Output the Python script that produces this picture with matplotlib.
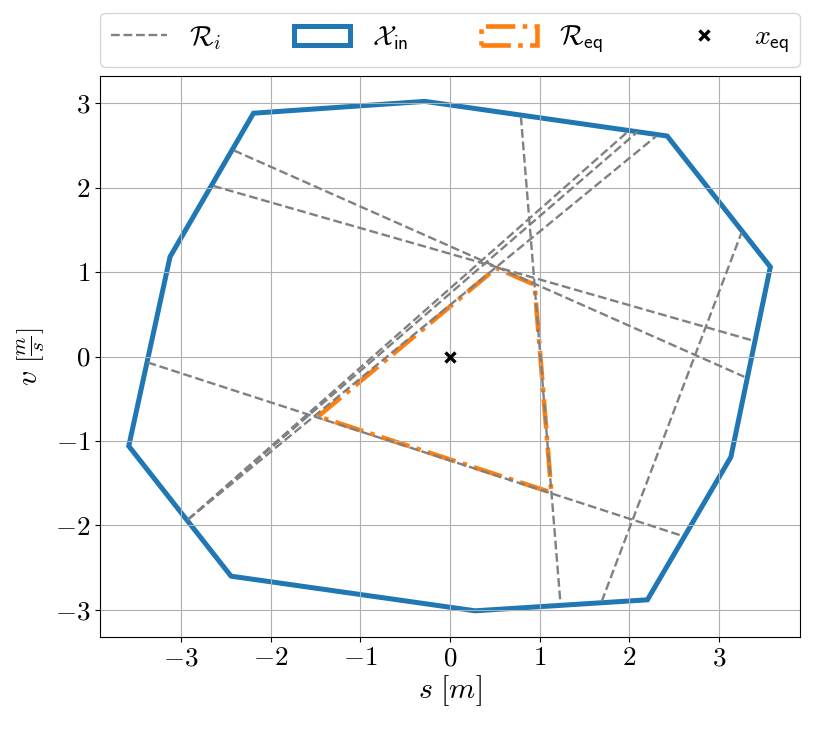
import numpy as np
import matplotlib
matplotlib.use("Agg")
import matplotlib.pyplot as plt
from matplotlib.patches import Polygon

plt.rcParams["font.family"] = "serif"
plt.rcParams["font.serif"] = ["cmr10", "DejaVu Serif"]
plt.rcParams["mathtext.fontset"] = "cm"
plt.rcParams["axes.formatter.use_mathtext"] = True
plt.rcParams["font.size"] = 20

# conjunto de entrada X_in (vertices)
x_in_s = [-3.58, -3.12, -2.19, -0.28, 2.42, 3.57, 3.13, 2.20, 0.28, -2.44]
x_in_v = [-1.06, 1.18, 2.88, 3.02, 2.61, 1.06, -1.19, -2.88, -3.01, -2.60]

# region de equilibrio R_eq
r_eq_s = [-1.47, 0.515, 0.942, 1.13]
r_eq_v = [-0.71, 1.047, 0.85, -1.61]

# rectas R_i (extremos)
ri_s0 = [-3.37, -2.41, -2.64, -2.92, -2.92, -2.92, 0.79, 1.69]
ri_v0 = [-0.07, 2.44, 2.02, -1.93, -1.93, -1.93, 2.84, -2.90]
ri_s1 = [2.58, 3.28, 3.37, 1.98, 2.09, 2.30, 1.23, 3.25]
ri_v1 = [-2.12, -0.24, 0.19, 2.66, 2.66, 2.61, -2.91, 1.47]

x_eq = [0.0, 0.0]

fig = plt.figure(figsize=(8.22, 7.31), dpi=100)
ax = fig.add_axes([0.1217, 0.1286, 0.8515, 0.7674])

for i in range(len(ri_s0)):
    ax.plot([ri_s0[i], ri_s1[i]], [ri_v0[i], ri_v1[i]], "--", color="gray",
            lw=1.7, label=r"$\mathcal{R}_i$" if i == 0 else None)

pin = Polygon(np.column_stack([x_in_s, x_in_v]), closed=True, fill=False,
              edgecolor="tab:blue", lw=3.6, label=r"$\mathcal{X}_{\mathsf{in}}$")
ax.add_patch(pin)

peq = Polygon(np.column_stack([r_eq_s, r_eq_v]), closed=True, fill=False,
              edgecolor="tab:orange", lw=3.3, ls="-.", label=r"$\mathcal{R}_{\mathsf{eq}}$")
ax.add_patch(peq)

ax.plot(x_eq[0], x_eq[1], "x", color="black", ms=7, mew=2.4, ls="none",
        label=r"$x_{\mathsf{eq}}$")

ax.set_xlim(-3.9, 3.9)
ax.set_ylim(-3.32, 3.32)
ax.grid(True)
ax.tick_params(labelsize=19.5)
ax.set_xlabel(r"$s\ [m]$", fontsize=21.5, labelpad=2)
ax.set_ylabel(r"$v\ \left[\frac{m}{s}\right]$", fontsize=21.5, labelpad=6)

ax.legend(bbox_to_anchor=(0, 1.016, 1, 0.102), loc="lower left", mode="expand",
          ncol=4, borderaxespad=0.0, fontsize=20)

fig.savefig("out.png", dpi=100)
